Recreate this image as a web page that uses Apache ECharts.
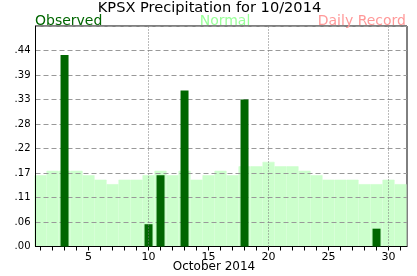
<!DOCTYPE html>
<html>
<head>
<meta charset="utf-8">
<script src="https://cdn.jsdelivr.net/npm/echarts@6/dist/echarts.min.js"></script>
<style>
html,body{margin:0;padding:0;background:#fff;}
#chart{width:417px;height:276px;}
</style>
</head>
<body>
<div id="chart"></div>
<script>
// Days of October 2014
var days = [1,2,3,4,5,6,7,8,9,10,11,12,13,14,15,16,17,18,19,20,21,22,23,24,25,26,27,28,29,30,31];
// Normal daily precipitation (inches)
var normalValues = [0.16,0.17,0.17,0.17,0.16,0.15,0.14,0.15,0.15,0.16,0.17,0.16,0.17,0.15,0.16,0.17,0.16,0.18,0.18,0.19,0.18,0.18,0.17,0.16,0.15,0.15,0.15,0.14,0.14,0.15,0.14];
// Observed precipitation (only days with rain)
var observedDays = [3,10,11,13,18,29];
var observedValues = [0.43,0.05,0.16,0.35,0.33,0.04];
// Axis labels
var yTickLabels = ['.00','.06','.11','.17','.22','.28','.33','.39','.44'];
var xLabelDays = [5,10,15,20,25,30];
var gridDays = [10,20,30];

var yStep = 0.055;
var FONT = 'DejaVu Sans';

var chart = echarts.init(document.getElementById('chart'), null, {renderer:'canvas'});

var xBase = {
  type:'value', min:0.58, max:31.54,
  axisLine:{show:true, onZero:false, lineStyle:{color:'#000', width:1}},
  splitLine:{show:false}
};

var option = {
  animation:false,
  backgroundColor:'#fff',
  grid:{left:35.5, right:10, top:26, bottom:29.5, show:true, borderColor:'#000', borderWidth:1, backgroundColor:'transparent'},
  xAxis:[
    Object.assign({}, xBase, {
      z:2,
      axisTick:{show:true, inside:false, length:4, customValues:days, lineStyle:{color:'#000'}},
      axisLabel:{show:true, customValues:xLabelDays, margin:5, color:'#000', fontFamily:FONT, fontSize:11}
    }),
    Object.assign({}, xBase, {
      show:false
    })
  ],
  yAxis:{
    type:'value', min:0, max:yStep*9, interval:yStep, z:2,
    axisLine:{show:true, lineStyle:{color:'#000', width:1}},
    axisTick:{show:false},
    axisLabel:{
      margin:5, color:'#000', fontFamily:FONT, fontSize:10, showMaxLabel:false,
      formatter:function(v){ var i = Math.round(v/yStep); return yTickLabels[i] !== undefined ? yTickLabels[i] : ''; }
    },
    splitLine:{show:true, lineStyle:{color:'#999', width:1, type:[5,3]}}
  },
  graphic:[
    {type:'text', x:209.5, y:8, z:10, style:{text:'KPSX Precipitation for 10/2014', align:'center', verticalAlign:'middle', font:'14.6px "DejaVu Sans"', fill:'#000'}},
    {type:'text', x:35, y:21, z:10, style:{text:'Observed', align:'left', verticalAlign:'middle', font:'14px "DejaVu Sans"', fill:'#006600'}},
    {type:'text', x:225, y:21, z:10, style:{text:'Normal', align:'center', verticalAlign:'middle', font:'14px "DejaVu Sans"', fill:'#99ff99'}},
    {type:'text', x:406, y:21, z:10, style:{text:'Daily Record', align:'right', verticalAlign:'middle', font:'14px "DejaVu Sans"', fill:'#ff9999'}},
    {type:'text', x:214, y:267, z:10, style:{text:'October 2014', align:'center', verticalAlign:'middle', font:'12px "DejaVu Sans"', fill:'#000'}}
  ],
  series:[
    {
      name:'Normal', type:'bar', xAxisIndex:1, z:1,
      barWidth:'100%',
      itemStyle:{color:'#ccffcc', borderColor:'#ccffcc', borderWidth:0.6},
      data:days.map(function(d,i){ return [d, normalValues[i]]; }),
      markLine:{
        silent:true, symbol:'none', label:{show:false},
        lineStyle:{color:'#777', width:1, type:[1,2]},
        data:gridDays.map(function(d){ return {xAxis:d}; })
      }
    },
    {
      name:'Observed', type:'bar', xAxisIndex:0, z:3,
      barWidth:8,
      itemStyle:{color:'#006600'},
      data:observedDays.map(function(d,i){ return [d, observedValues[i]]; })
    }
  ]
};
chart.setOption(option);
</script>
</body>
</html>
